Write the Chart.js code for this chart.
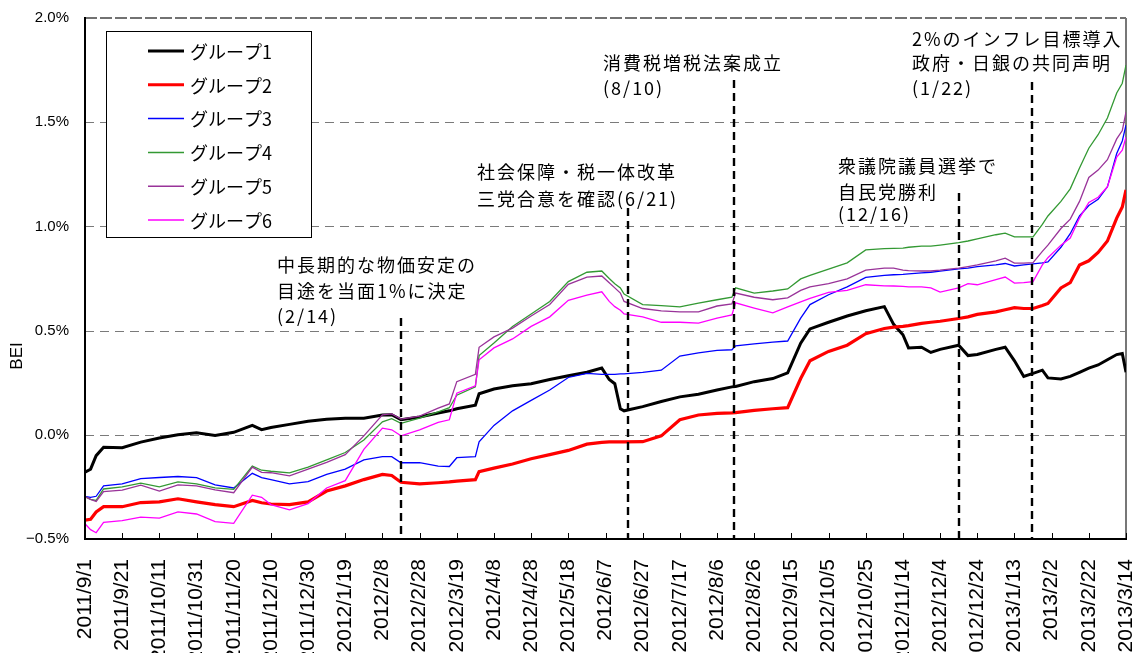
<!DOCTYPE html>
<html><head><meta charset="utf-8">
<script src="https://cdn.jsdelivr.net/npm/chart.js@4.4.1/dist/chart.umd.min.js"></script>
<style>html,body{margin:0;padding:0;background:#fff;}canvas{display:block;}</style>
</head><body><canvas id="c" width="1137" height="653"></canvas>
<script>
// ---- data ----
const seriesNames = ['グループ1','グループ2','グループ3','グループ4','グループ5','グループ6'];
const tickStep = 20; // days between category labels
const tickLabels = ["2011/9/1","2011/9/21","2011/10/11","2011/10/31","2011/11/20","2011/12/10","2011/12/30","2012/1/19","2012/2/8","2012/2/28","2012/3/19","2012/4/8","2012/4/28","2012/5/18","2012/6/7","2012/6/27","2012/7/17","2012/8/6","2012/8/26","2012/9/15","2012/10/5","2012/10/25","2012/11/14","2012/12/4","2012/12/24","2013/1/13","2013/2/2","2013/2/22","2013/3/14"];
// days since 2011/9/1
const days = [0,3,6,10,20,30,40,50,60,70,80,90,95,100,110,120,130,140,150,160,165,170,180,190,196,200,210,212,220,230,240,250,260,270,278,282,285,288,290,300,310,320,330,340,348,350,360,370,378,385,390,400,410,420,430,435,440,443,450,455,460,470,475,480,490,495,500,505,510,515,518,525,530,535,540,545,550,555,558,560];
const group1 = [-0.18,-0.165,-0.10,-0.06,-0.062,-0.035,-0.015,0.0,0.01,-0.003,0.012,0.045,0.025,0.035,0.05,0.065,0.075,0.08,0.08,0.095,0.096,0.072,0.085,0.105,0.115,0.125,0.142,0.197,0.22,0.235,0.245,0.265,0.283,0.30,0.32,0.265,0.245,0.125,0.115,0.135,0.16,0.182,0.195,0.215,0.23,0.232,0.255,0.27,0.297,0.44,0.508,0.54,0.57,0.595,0.615,0.53,0.48,0.417,0.42,0.395,0.41,0.43,0.38,0.385,0.41,0.42,0.355,0.28,0.295,0.31,0.273,0.268,0.28,0.30,0.32,0.335,0.36,0.385,0.39,0.30];
const group2 = [-0.41,-0.405,-0.37,-0.345,-0.345,-0.325,-0.322,-0.307,-0.322,-0.335,-0.345,-0.315,-0.326,-0.332,-0.335,-0.322,-0.27,-0.245,-0.215,-0.19,-0.195,-0.228,-0.235,-0.23,-0.226,-0.222,-0.215,-0.177,-0.16,-0.14,-0.115,-0.095,-0.075,-0.045,-0.036,-0.034,-0.034,-0.034,-0.034,-0.033,-0.005,0.072,0.095,0.103,0.105,0.106,0.117,0.125,0.13,0.27,0.355,0.40,0.43,0.485,0.51,0.517,0.52,0.524,0.535,0.54,0.545,0.558,0.566,0.578,0.59,0.60,0.61,0.606,0.606,0.62,0.63,0.705,0.73,0.815,0.835,0.875,0.93,1.04,1.093,1.175];
const group3 = [-0.296,-0.30,-0.295,-0.245,-0.235,-0.21,-0.205,-0.20,-0.205,-0.24,-0.255,-0.185,-0.205,-0.215,-0.235,-0.225,-0.19,-0.165,-0.12,-0.105,-0.105,-0.134,-0.134,-0.15,-0.152,-0.11,-0.105,-0.034,0.045,0.115,0.165,0.215,0.275,0.295,0.29,0.29,0.29,0.292,0.292,0.30,0.31,0.378,0.393,0.405,0.408,0.427,0.436,0.445,0.45,0.56,0.625,0.672,0.71,0.755,0.765,0.768,0.77,0.772,0.777,0.78,0.785,0.796,0.80,0.807,0.815,0.822,0.81,0.815,0.82,0.825,0.83,0.90,0.965,1.05,1.10,1.13,1.19,1.35,1.41,1.486];
const group4 = [-0.297,-0.31,-0.315,-0.26,-0.25,-0.232,-0.25,-0.226,-0.235,-0.255,-0.262,-0.15,-0.17,-0.175,-0.183,-0.155,-0.12,-0.085,-0.025,0.062,0.077,0.055,0.08,0.11,0.13,0.19,0.23,0.38,0.44,0.52,0.58,0.64,0.735,0.78,0.786,0.75,0.725,0.705,0.675,0.625,0.62,0.614,0.632,0.648,0.66,0.705,0.68,0.69,0.70,0.748,0.765,0.795,0.825,0.887,0.893,0.895,0.896,0.90,0.905,0.905,0.91,0.922,0.93,0.94,0.96,0.968,0.95,0.95,0.95,1.01,1.05,1.12,1.18,1.28,1.375,1.44,1.52,1.64,1.687,1.774];
const group5 = [-0.296,-0.31,-0.32,-0.273,-0.265,-0.242,-0.27,-0.24,-0.245,-0.264,-0.278,-0.155,-0.18,-0.182,-0.197,-0.165,-0.132,-0.095,-0.005,0.096,0.10,0.075,0.09,0.128,0.148,0.255,0.29,0.42,0.47,0.512,0.57,0.625,0.722,0.757,0.762,0.73,0.705,0.68,0.64,0.606,0.595,0.59,0.59,0.618,0.628,0.68,0.66,0.648,0.657,0.693,0.71,0.725,0.748,0.79,0.80,0.80,0.79,0.788,0.786,0.786,0.79,0.80,0.807,0.815,0.835,0.848,0.824,0.824,0.826,0.88,0.91,0.99,1.035,1.12,1.235,1.27,1.32,1.42,1.46,1.548];
const group6 = [-0.427,-0.455,-0.47,-0.42,-0.412,-0.395,-0.40,-0.37,-0.38,-0.417,-0.425,-0.29,-0.30,-0.335,-0.36,-0.33,-0.255,-0.22,-0.07,0.032,0.024,-0.005,0.024,0.06,0.072,0.20,0.235,0.36,0.417,0.46,0.52,0.566,0.645,0.67,0.686,0.64,0.615,0.598,0.58,0.566,0.54,0.54,0.536,0.56,0.575,0.633,0.608,0.585,0.614,0.638,0.655,0.683,0.693,0.72,0.715,0.714,0.712,0.71,0.71,0.705,0.685,0.705,0.725,0.72,0.745,0.757,0.728,0.73,0.735,0.815,0.85,0.91,0.944,1.04,1.115,1.14,1.19,1.333,1.366,1.428];
const yTicks = [-0.5,0.0,0.5,1.0,1.5,2.0];
const eventDays = [170, 292.3, 349.1, 470.1, 509.2];
const eventTexts = [
  ['中長期的な物価安定の','目途を当面1%に決定','(2/14)'],
  ['社会保障・税一体改革','三党合意を確認(6/21)'],
  ['消費税増税法案成立','(8/10)'],
  ['衆議院議員選挙で','自民党勝利','(12/16)'],
  ['2%のインフレ目標導入','政府・日銀の共同声明','(1/22)']
];
// ---- layout / style ----
const eventLineTop = [318, 208, 80, 193, 82];
const eventTextX = [277, 477, 603, 838, 912];
const eventTextY = [[265,291,316],[172,199],[63,88],[166,192,214],[39,63,88]];
const colors = ['#000000','#ff0000','#0000ff','#339933','#993399','#ff00ff'];
const widths = [3, 3.2, 1.3, 1.3, 1.3, 1.3];
const allSeries = [group1, group2, group3, group4, group5, group6];
const latin = '"Liberation Sans", Arial, sans-serif';
const cjk = '"Noto Sans CJK JP", "Noto Sans CJK SC", sans-serif';

const datasets = allSeries.map((s, k) => ({
  label: seriesNames[k],
  data: days.map((d, i) => ({x: d, y: s[i]})),
  borderColor: colors[k],
  borderWidth: widths[k],
  pointRadius: 0,
  tension: 0,
  fill: false
})).reverse(); // so group1 is drawn first (bottom) like Excel

function seg(ctx, x1, y1, x2, y2) { ctx.beginPath(); ctx.moveTo(x1, y1); ctx.lineTo(x2, y2); ctx.stroke(); }

const decor = {
  id: 'decor',
  beforeDatasetsDraw(chart) {
    const {ctx, chartArea: a, scales: {y}} = chart;
    ctx.save();
    ctx.strokeStyle = '#7a7a7a'; ctx.lineWidth = 1; ctx.setLineDash([9, 6]);
    yTicks.forEach(v => {
      if (v <= yTicks[0] || v >= yTicks[yTicks.length - 1]) return;
      const py = Math.round(y.getPixelForValue(v)) + 0.5;
      seg(ctx, a.left, py, a.right, py);
    });
    // top border (dashed, darker)
    ctx.strokeStyle = '#444'; ctx.lineWidth = 1.5; ctx.setLineDash([12, 3]);
    seg(ctx, a.left, a.top, a.right, a.top);
    // right border
    ctx.setLineDash([]); ctx.strokeStyle = '#777'; ctx.lineWidth = 2;
    seg(ctx, a.right, a.top, a.right, a.bottom);
    ctx.restore();
  },
  afterDatasetsDraw(chart) {
    const {ctx, chartArea: a, scales: {x}} = chart;
    ctx.save();
    // axes
    ctx.setLineDash([]); ctx.strokeStyle = '#000'; ctx.lineWidth = 2;
    seg(ctx, a.left, a.top - 1, a.left, a.bottom + 1);
    seg(ctx, a.left - 1, a.bottom, a.right + 1, a.bottom);
    // inward tick marks
    ctx.lineWidth = 1;
    tickLabels.forEach((_, i) => {
      const px = Math.round(x.getPixelForValue(i * tickStep)) + 0.5;
      seg(ctx, px, a.bottom, px, a.bottom - 6);
    });
    // event lines
    ctx.lineWidth = 2.4; ctx.setLineDash([8, 5]);
    eventDays.forEach((d, i) => {
      const px = Math.round(x.getPixelForValue(d));
      seg(ctx, px, eventLineTop[i], px, a.bottom);
    });
    ctx.setLineDash([]);
    // event texts
    ctx.fillStyle = '#000'; ctx.font = '18px ' + cjk; ctx.textBaseline = 'middle'; ctx.textAlign = 'left';
    try { ctx.letterSpacing = '2px'; } catch (e) {}
    eventTexts.forEach((lines, i) => {
      lines.forEach((t, j) => ctx.fillText(t, eventTextX[i], eventTextY[i][j]));
    });
    try { ctx.letterSpacing = '0px'; } catch (e) {}
    // legend
    ctx.fillStyle = '#fff'; ctx.fillRect(106, 31, 205, 206);
    ctx.strokeStyle = '#000'; ctx.lineWidth = 1; ctx.strokeRect(106.5, 31.5, 205, 206);
    ctx.font = '18px ' + cjk; ctx.fillStyle = '#000';
    seriesNames.forEach((n, k) => {
      const yy = 51 + k * 33.8;
      ctx.strokeStyle = colors[k]; ctx.lineWidth = widths[k] > 2 ? 3 : 1.5;
      seg(ctx, 148, yy, 184, yy);
      ctx.fillText(n, 190, yy + 1);
    });
    // y axis title
    ctx.save();
    ctx.translate(17, 356); ctx.rotate(-Math.PI / 2);
    ctx.font = '17px ' + latin; ctx.textAlign = 'center'; ctx.textBaseline = 'middle';
    ctx.fillText('BEI', 0, 0);
    ctx.restore();
    ctx.restore();
  }
};

new Chart(document.getElementById('c'), {
  type: 'line',
  data: {datasets},
  plugins: [decor],
  options: {
    responsive: false, devicePixelRatio: 1, animation: false,
    layout: {padding: {top: 18, right: 11, left: 0, bottom: 0}},
    plugins: {legend: {display: false}, tooltip: {enabled: false}},
    scales: {
      x: {
        type: 'linear', min: 0, max: (tickLabels.length - 1) * tickStep,
        afterBuildTicks: s => { s.ticks = tickLabels.map((_, i) => ({value: i * tickStep})); },
        afterFit: s => { s.height = 114; s.paddingLeft = 0; s.paddingRight = 0; s.paddingTop = 0; s.paddingBottom = 0; },
        ticks: {
          autoSkip: false, maxRotation: 90, minRotation: 90, padding: 20,
          color: '#000', font: {family: latin, size: 21},
          callback: v => tickLabels[Math.round(v / tickStep)]
        },
        grid: {display: false, drawTicks: false},
        border: {display: false}
      },
      y: {
        min: yTicks[0], max: yTicks[yTicks.length - 1],
        afterBuildTicks: s => { s.ticks = yTicks.map(v => ({value: v})); },
        afterFit: s => { s.width = 85; s.paddingTop = 0; s.paddingBottom = 0; },
        ticks: {
          padding: 16, color: '#000', font: {family: latin, size: 15},
          callback: v => (v < 0 ? '\u2212' : '') + Math.abs(v).toFixed(1) + '%'
        },
        grid: {display: false, drawTicks: false},
        border: {display: false}
      }
    }
  }
});
</script></body></html>
